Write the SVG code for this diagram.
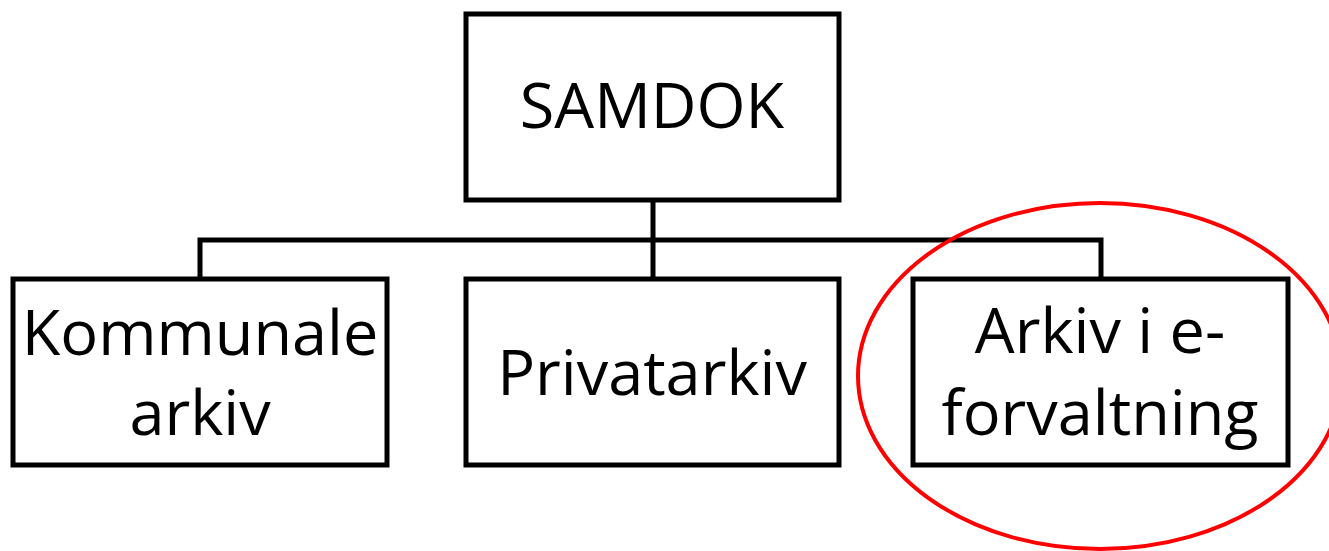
<svg xmlns="http://www.w3.org/2000/svg" width="1329" height="551" viewBox="0 0 1329 551">
<style>
.box{fill:#fff;stroke:#000;stroke-width:5}
.conn{fill:none;stroke:#000;stroke-width:5}
.lbl{font-family:"Open Sans","Liberation Sans",sans-serif;font-size:63px;fill:#000;text-anchor:middle}
</style>
<rect width="1329" height="551" fill="#fff"/>
<g id="connectors">
<path class="conn" d="M653 200V278M200 278V240H1101V278"/>
</g>
<g id="samdok">
<rect class="box" x="466" y="14" width="373" height="186"/>
<text class="lbl" x="652" y="128">SAMDOK</text>
</g>
<g id="kommunale">
<rect class="box" x="13" y="279" width="374" height="186"/>
<text class="lbl" x="200" y="355">Kommunale</text>
<text class="lbl" x="200" y="435">arkiv</text>
</g>
<g id="privatarkiv">
<rect class="box" x="466" y="279" width="373" height="186"/>
<text class="lbl" x="652" y="395">Privatarkiv</text>
</g>
<g id="eforvaltning">
<rect class="box" x="913" y="279" width="375" height="186"/>
<text class="lbl" x="1100" y="353">Arkiv i e-</text>
<text class="lbl" x="1100" y="435">forvaltning</text>
</g>
<ellipse id="highlight" cx="1100" cy="376" rx="242" ry="173" fill="none" stroke="#f00" stroke-width="4"/>
</svg>
